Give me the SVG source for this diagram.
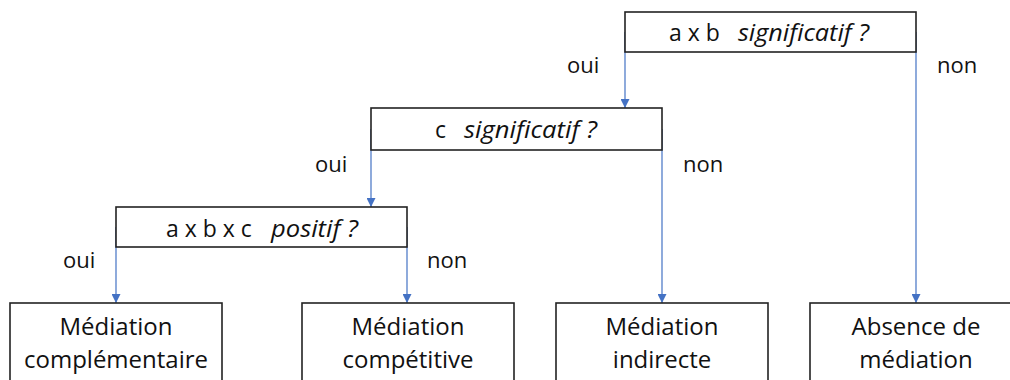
<svg xmlns="http://www.w3.org/2000/svg" width="1010" height="380" viewBox="0 0 1010 380">
<defs>
<marker id="arr" viewBox="0 0 10 10" refX="10" refY="5" markerWidth="9" markerHeight="9" markerUnits="userSpaceOnUse" orient="auto">
<path d="M0,0 L10,5 L0,10 z" fill="#4472C4"/>
</marker>
<style>
.box{fill:#fff;stroke:#222;stroke-width:1.6}
.t{font-family:"Open Sans","Noto Sans",sans-serif;font-size:22px;fill:#111}
.b{font-size:24px}
.q{font-family:"Open Sans","Noto Sans",sans-serif;font-size:23px;fill:#111}
.i{font-style:italic;font-size:24px}
.c{text-anchor:middle}
.ln{stroke:#4472C4;stroke-width:1.2;fill:none;marker-end:url(#arr)}
</style>
</defs>
<rect width="1010" height="380" fill="#fff"/>
<g id="connectors">
<line class="ln" x1="625" y1="32" x2="625" y2="108"/>
<line class="ln" x1="916" y1="32" x2="916" y2="303"/>
<line class="ln" x1="371" y1="129" x2="371" y2="207"/>
<line class="ln" x1="662" y1="129" x2="662" y2="303"/>
<line class="ln" x1="116" y1="227" x2="116" y2="303"/>
<line class="ln" x1="407" y1="227" x2="407" y2="303"/>
<text class="t" x="567" y="73">oui</text>
<text class="t" x="937" y="73">non</text>
<text class="t" x="315" y="172">oui</text>
<text class="t" x="683" y="172">non</text>
<text class="t" x="63" y="268">oui</text>
<text class="t" x="427" y="268">non</text>
</g>
<g id="q1">
<rect class="box" x="625" y="12" width="291" height="40"/>
<text class="q" x="669" y="41">a x b</text>
<text class="q i" x="738" y="41" textLength="131" lengthAdjust="spacingAndGlyphs">significatif ?</text>
</g>
<g id="q2">
<rect class="box" x="371" y="108" width="291" height="42"/>
<text class="q" x="435" y="138">c</text>
<text class="q i" x="464" y="138" textLength="133" lengthAdjust="spacingAndGlyphs">significatif ?</text>
</g>
<g id="q3">
<rect class="box" x="116" y="207" width="291" height="40"/>
<text class="q" x="166" y="237">a x b x c</text>
<text class="q i" x="271" y="237" textLength="87" lengthAdjust="spacingAndGlyphs">positif ?</text>
</g>
<g id="r1">
<rect class="box" x="10" y="303" width="212" height="90"/>
<text class="t b c" x="116" y="335">Médiation</text>
<text class="t b c" x="116" y="368">complémentaire</text>
</g>
<g id="r2">
<rect class="box" x="302" y="303" width="212" height="90"/>
<text class="t b c" x="408" y="335">Médiation</text>
<text class="t b c" x="408" y="368">compétitive</text>
</g>
<g id="r3">
<rect class="box" x="556" y="303" width="212" height="90"/>
<text class="t b c" x="662" y="335">Médiation</text>
<text class="t b c" x="662" y="368">indirecte</text>
</g>
<g id="r4">
<rect class="box" x="810" y="303" width="212" height="90"/>
<text class="t b c" x="916" y="335">Absence de</text>
<text class="t b c" x="916" y="368">médiation</text>
</g>
</svg>
